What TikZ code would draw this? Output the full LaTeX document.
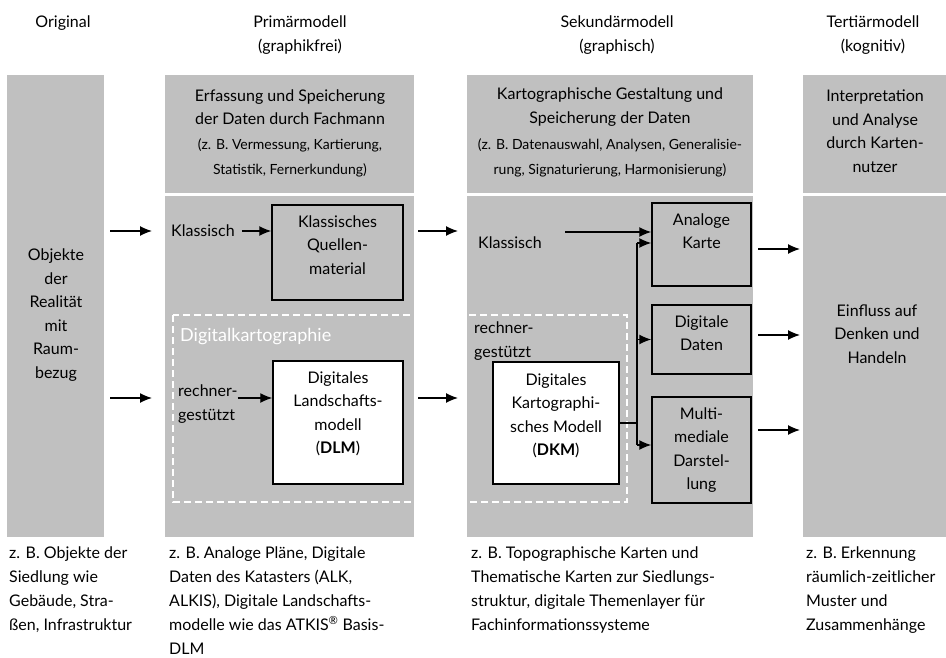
\documentclass[tikz,border=0pt]{standalone}
\usepackage{fontspec}
\setmainfont{Lato}
\usetikzlibrary{arrows.meta, positioning}

\definecolor{panelgrau}{RGB}{192,192,192}

\tikzset{
	panel/.style={fill=panelgrau, draw=none, inner sep=0pt, outer sep=0pt},
	kasten/.style={draw, line width=1.5pt, inner sep=0pt},
	txt/.style={font=\fontsize{16}{23.5}\selectfont, align=center, inner sep=0pt},
	klein/.style={font=\fontsize{14}{25}\selectfont, align=center, inner sep=0pt},
	unten/.style={font=\fontsize{16}{23.8}\selectfont, align=left, inner sep=0pt, anchor=north west},
	pfeil/.style={line width=1.3pt, arrows={-Latex[length=12pt, width=10pt]}},
}

\begin{document}
\begin{tikzpicture}[x=1pt, y=-1pt]
	\useasboundingbox (0,0) rectangle (946,658);

	% Spalten
	\node[panel, minimum width=97, minimum height=462] (original) at (55.5,306) {};
	\node[panel, minimum width=249, minimum height=118] (primKopf) at (289.5,134) {};
	\node[panel, minimum width=249, minimum height=341] (primaer) at (289.5,366.5) {};
	\node[panel, minimum width=286, minimum height=118] (sekKopf) at (610,134) {};
	\node[panel, minimum width=286, minimum height=341] (sekundaer) at (610,366.5) {};
	\node[panel, minimum width=143, minimum height=118] (terKopf) at (874.5,134) {};
	\node[panel, minimum width=143, minimum height=341] (tertiaer) at (874.5,366.5) {};

	% Ueberschriften
	\node[txt] (kopfO) at (63,23) {Original};
	\node[txt] (kopfP) at (300,35) {Primärmodell\\(graphikfrei)};
	\node[txt] (kopfS) at (617,35) {Sekundärmodell\\(graphisch)};
	\node[txt] (kopfT) at (873,35) {Tertiärmodell\\(kognitiv)};

	\node[txt] (erfassung) at (290,107) {Erfassung und Speicherung\\der Daten durch Fachmann};
	\node[klein] (erfassungBsp) at (290,158) {(z. B. Vermessung, Kartierung,\\Statistik, Fernerkundung)};
	\node[txt] (gestaltung) at (610,107) {Kartographische Gestaltung und\\Speicherung der Daten};
	\node[klein] (gestaltungBsp) at (610,158) {(z. B. Datenauswahl, Analysen, Generalisie-\\rung, Signaturierung, Harmonisierung)};
	\node[txt] (interpretation) at (875,131) {Interpretation\\und Analyse\\durch Karten-\\nutzer};

	\node[txt] (objekte) at (56,315) {Objekte\\der\\Realität\\mit\\Raum-\\bezug};
	\node[txt] (einfluss) at (877,334) {Einfluss auf\\Denken und\\Handeln};

	% Digitalkartographie
	\draw[white, line width=2pt, dash pattern=on 7pt off 4pt] (173,315) rectangle (627,502);
	\node[txt, anchor=west, text=white, font=\fontsize{18}{20}\selectfont] (digital) at (180,337) {Digitalkartographie};

	% Primaermodell
	\node[txt, anchor=west] (klassischP) at (171,231) {Klassisch};
	\node[kasten, minimum width=131, minimum height=95] (quellen) at (337.5,252.5) {};
	\node[txt, below=11pt of quellen.north] (quellenText) {Klassisches\\Quellen-\\material};
	\draw[pfeil, shorten <=7pt] (klassischP) -- (klassischP -| quellen.west);

	\node[txt, anchor=west, align=left] (rechnerP) at (178,404) {rechner-\\gestützt};
	\node[kasten, fill=white, minimum width=130, minimum height=123] (dlm) at (338,422.5) {};
	\node[txt, below=11pt of dlm.north] (dlmText) {Digitales\\Landschafts-\\modell\\(\textbf{DLM})};
	\draw[pfeil] (rechnerP.east |- 0,398) -- (dlm.west |- 0,398);

	% Sekundaermodell
	\node[txt, anchor=west] (klassischS) at (478,243) {Klassisch};
	\node[txt, anchor=west, align=left] (rechnerS) at (474,341) {rechner-\\gestützt};

	\node[kasten, minimum width=99, minimum height=83] (analog) at (701.5,244.5) {};
	\node[txt, below=11pt of analog.north] (analogText) {Analoge\\Karte};
	\node[kasten, minimum width=99, minimum height=69] (digdaten) at (701.5,339.5) {};
	\node[txt, below=11pt of digdaten.north] (digdatenText) {Digitale\\Daten};
	\node[kasten, minimum width=99, minimum height=106] (multi) at (701.5,450) {};
	\node[txt, below=11pt of multi.north] (multiText) {Multi-\\mediale\\Darstel-\\lung};

	\node[kasten, fill=white, minimum width=126, minimum height=122] (dkm) at (556,423) {};
	\node[txt, below=12pt of dkm.north] (dkmText) {Digitales\\Kartographi-\\sches Modell\\(\textbf{DKM})};

	\coordinate (klassischEnde) at (565,232);
	\draw[pfeil] (klassischEnde) -- (klassischEnde -| analog.west);

	\coordinate (verteiler) at (637,423);
	\draw[line width=1.5pt] (dkm.east) -- (verteiler);
	\draw[line width=1.5pt] (verteiler |- 0,243) -- (verteiler |- 0,445);
	\draw[pfeil] (verteiler |- 0,243) -- (analog.west |- 0,243);
	\draw[pfeil] (verteiler |- digdaten) -- (digdaten.west);
	\draw[pfeil] (verteiler |- 0,445) -- (multi.west |- 0,445);

	% Pfeile zwischen den Spalten
	\foreach \y in {231,398} {
		\draw[pfeil, shorten <=6pt, shorten >=13pt] (original.east |- 0,\y) -- (primaer.west |- 0,\y);
		\draw[pfeil, shorten <=4pt, shorten >=9pt] (primaer.east |- 0,\y) -- (sekundaer.west |- 0,\y);
	}
	\foreach \y in {249,335,430}
		\draw[pfeil, shorten <=5pt, shorten >=3pt] (sekundaer.east |- 0,\y) -- (tertiaer.west |- 0,\y);

	% Beispiele
	\node[unten] (bspO) at (9,547) {z. B. Objekte der\\Siedlung wie\\Gebäude, Stra-\\ßen, Infrastruktur};
	\node[unten] (bspP) at (169,547) {z. B. Analoge Pläne, Digitale\\Daten des Katasters (ALK,\\ALKIS), Digitale Landschafts-\\modelle wie das ATKIS\textsuperscript{®} Basis-\\DLM};
	\node[unten] (bspS) at (471,547) {z. B. Topographische Karten und\\Thematische Karten zur Siedlungs-\\struktur, digitale Themenlayer für\\Fachinformationssysteme};
	\node[unten] (bspT) at (806,547) {z. B. Erkennung\\räumlich-zeitlicher\\Muster und\\Zusammenhänge};
\end{tikzpicture}
\end{document}
